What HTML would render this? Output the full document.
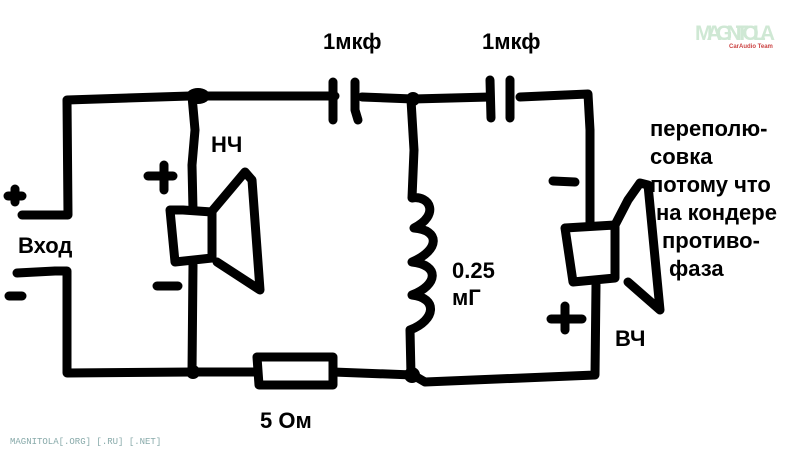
<!DOCTYPE html>
<html><head><meta charset="utf-8"><style>
html,body{margin:0;padding:0;background:#fff;width:795px;height:452px;overflow:hidden}
svg{display:block}
text{font-family:"Liberation Sans",sans-serif;font-weight:bold;fill:#000}
</style></head><body>
<svg width="795" height="452" viewBox="0 0 795 452" xmlns="http://www.w3.org/2000/svg">
<g fill="none" stroke="#000" stroke-width="9" stroke-linecap="round" stroke-linejoin="round">
<polyline points="22,215 68,215 67,100 190,96 335,96"/>
<polyline points="17,273 55,271 67,271 67,373 193,372"/>
<line x1="8" y1="196" x2="22" y2="196"/><line x1="15" y1="189" x2="15" y2="202"/>
<line x1="9" y1="296" x2="22" y2="296"/>
<polyline points="192,96 195,130 192,165 193,210"/>
<polyline points="193,265 192,372"/>
<polygon points="170,210 183,210 212,212 212,258 175,262"/>
<polyline points="213,210 245,172 252,180 260,290 217,262"/>
<line x1="148" y1="176" x2="173" y2="176"/><line x1="164" y1="165" x2="164" y2="190"/>
<line x1="157" y1="286" x2="178" y2="286"/>
<line x1="333" y1="82" x2="333" y2="120"/>
<polyline points="355,82 355,110 358,120"/>
<polyline points="362,97 413,99 490,97"/>
<line x1="490" y1="80" x2="491" y2="118"/>
<line x1="510" y1="80" x2="510" y2="118"/>
<polyline points="520,97 588,94 590,130 590,222"/>
<path d="M411,100 L414,150 L412,198 C430,195 440,215 414,228 C440,230 440,250 412,262 C440,265 438,285 412,295 C438,298 436,320 410,330 L411,375"/>
<polyline points="193,372 255,372"/>
<polygon points="257,357 333,357 333,385 259,385"/>
<polyline points="333,372 413,375 425,382 595,375 596,285"/>
<polygon points="565,228 615,225 615,278 573,282"/>
<polyline points="615,225 628,200 640,183 648,185 660,310 628,282"/>
<line x1="553" y1="181" x2="575" y2="182"/>
<line x1="551" y1="319" x2="582" y2="319"/><line x1="565" y1="306" x2="565" y2="330"/>
</g>
<g fill="#000">
<ellipse cx="198" cy="96" rx="12" ry="8"/>
<circle cx="193" cy="372" r="7"/>
<circle cx="413" cy="99" r="7"/>
<circle cx="412" cy="375" r="8"/>
</g>
<g font-size="22">
<text x="18" y="253">Вход</text>
<text x="211" y="152">НЧ</text>
<text x="323" y="49">1мкф</text>
<text x="482" y="49">1мкф</text>
<text x="452" y="278">0.25</text>
<text x="452" y="305">мГ</text>
<text x="615" y="346">ВЧ</text>
<text x="260" y="428">5 Ом</text>
<text x="650" y="136">переполю-</text>
<text x="650" y="164">совка</text>
<text x="650" y="192">потому что</text>
<text x="656" y="220">на кондере</text>
<text x="662" y="248">противо-</text>
<text x="669" y="276">фаза</text>
</g>
<text x="695" y="40" font-size="21" style="fill:#cfe8d4;font-weight:bold" textLength="80">MAGNITOLA</text>
<text x="729" y="48" font-size="6" style="fill:#c44">CarAudio Team</text>
<text x="10" y="444" font-size="9" style="font-family:'Liberation Mono',monospace;font-weight:normal;fill:#8aa">MAGNITOLA[.ORG] [.RU] [.NET]</text>
</svg>
</body></html>
